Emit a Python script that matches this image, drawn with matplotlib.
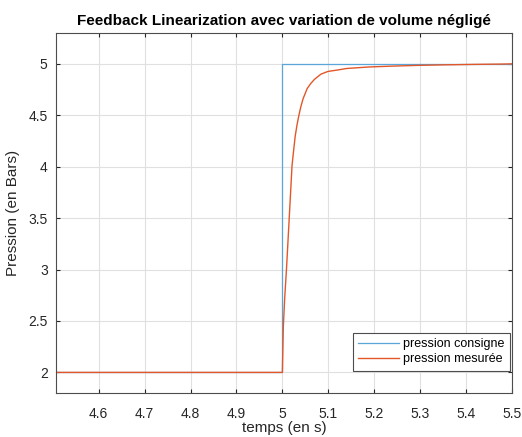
import matplotlib
matplotlib.use("Agg")
import matplotlib.pyplot as plt

# donnees
t_consigne = [4.507, 5.0, 5.0, 5.5]
p_consigne = [2.0, 2.0, 5.0, 5.0]

t_mesure = [4.507, 5.0,
            5.002, 5.005, 5.009, 5.012, 5.015, 5.018, 5.021, 5.025, 5.028,
            5.032, 5.036, 5.040, 5.045, 5.054, 5.062, 5.070, 5.084, 5.099,
            5.12, 5.14, 5.19, 5.24, 5.293, 5.35, 5.42, 5.48, 5.5]
p_mesure = [2.0, 2.0,
            2.44, 2.72, 3.01, 3.26, 3.51, 3.76, 4.01, 4.18, 4.30,
            4.41, 4.50, 4.58, 4.66, 4.76, 4.81, 4.85, 4.90, 4.926,
            4.94, 4.955, 4.97, 4.978, 4.985, 4.99, 4.995, 4.998, 5.0]

x_ticks = [4.6, 4.7, 4.8, 4.9, 5.0, 5.1, 5.2, 5.3, 5.4, 5.5]
x_labels = ["4.6", "4.7", "4.8", "4.9", "5", "5.1", "5.2", "5.3", "5.4", "5.5"]
y_ticks = [2, 2.5, 3, 3.5, 4, 4.5, 5]
y_labels = ["2", "2.5", "3", "3.5", "4", "4.5", "5"]

plt.rcParams['font.family'] = ['Liberation Sans', 'DejaVu Sans']

fig = plt.figure(figsize=(5.22, 4.37), dpi=100)
ax = fig.add_axes([0.1073, 0.1007, 0.8735, 0.8238])

ax.plot(t_consigne, p_consigne, color='#5AA6D8', lw=0.9, label='pression consigne')
ax.plot(t_mesure, p_mesure, color='#E2572A', lw=1.0, label='pression mesurée')

ax.set_xlim(4.507, 5.5)
ax.set_ylim(1.8, 5.3)
ax.set_xticks(x_ticks)
ax.set_xticklabels(x_labels)
ax.set_yticks(y_ticks)
ax.set_yticklabels(y_labels)

ax.grid(True, color='#E0E0E0', lw=0.8)
ax.set_axisbelow(True)
ax.tick_params(direction='in', top=True, right=True, length=3, width=0.8,
               colors='#262626', labelsize=10)
ax.tick_params(axis='x', pad=10)
ax.tick_params(axis='y', pad=6)
for s in ax.spines.values():
    s.set_color('#4D4D4D')
    s.set_linewidth(0.8)

ax.set_title('Feedback Linearization avec variation de volume négligé',
             fontsize=11, fontweight='bold', pad=6)
ax.set_xlabel('temps (en s)', fontsize=11, color='#262626', labelpad=0)
ax.set_ylabel('Pression (en Bars)', fontsize=11, color='#262626', labelpad=6)

leg = ax.legend(loc='lower right', bbox_to_anchor=(0.996, 0.061), borderaxespad=0,
                fontsize=9, fancybox=False, framealpha=1, handlelength=3.3,
                borderpad=0.45, labelspacing=0.25, handletextpad=0.3)
leg.get_frame().set_edgecolor('#4D4D4D')
leg.get_frame().set_linewidth(0.8)

fig.savefig('out.png', dpi=100)
